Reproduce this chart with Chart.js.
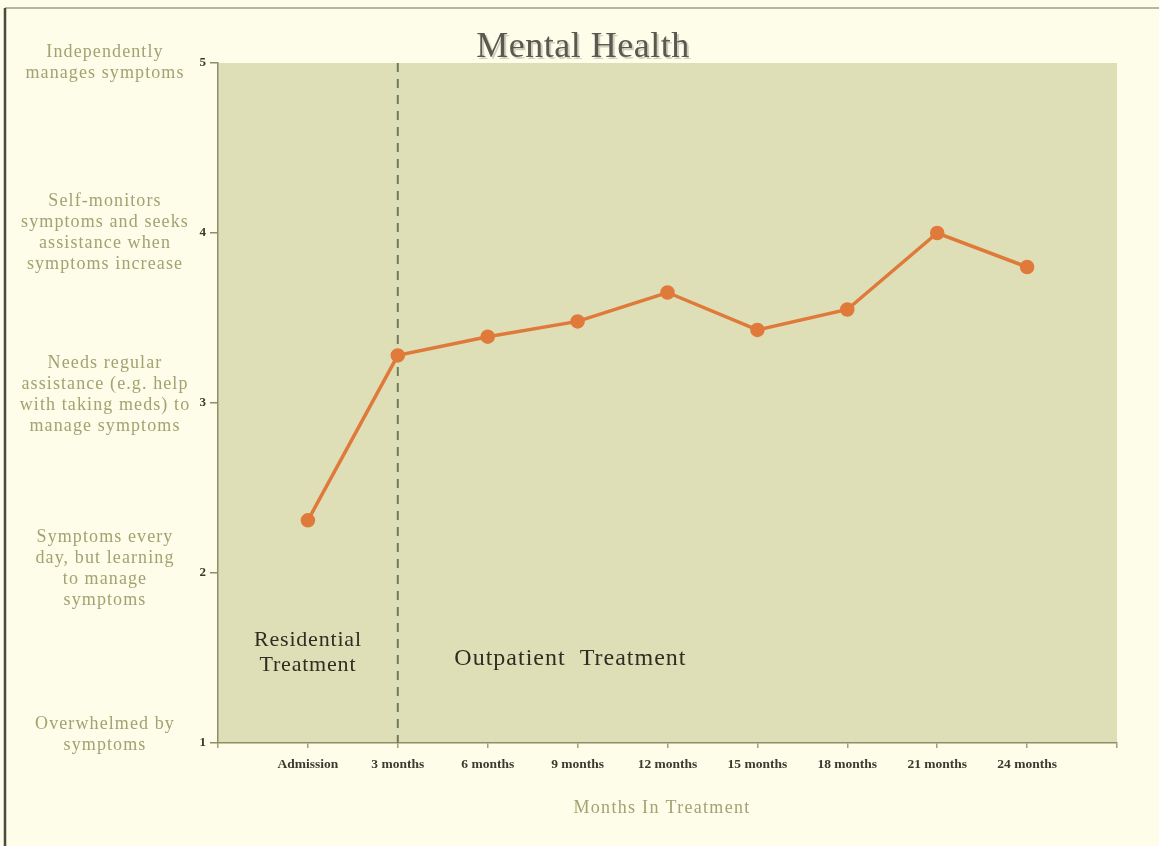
<!DOCTYPE html>
<html>
<head>
<meta charset="utf-8">
<script src="https://cdn.jsdelivr.net/npm/chart.js@4.4.1/dist/chart.umd.min.js"></script>
<style>
  html, body { margin: 0; padding: 0; background: #fefde9; }
  #wrap { width: 1159px; height: 846px; position: relative; }
</style>
</head>
<body>
<div id="wrap"><canvas id="c" width="1159" height="846"></canvas></div>
<script>
// ── data ──
const months = ['', 'Admission', '3 months', '6 months', '9 months', '12 months', '15 months', '18 months', '21 months', '24 months', ''];
const scores = [null, 2.31, 3.28, 3.39, 3.48, 3.65, 3.43, 3.55, 4.0, 3.80, null];
const yTicks = [1, 2, 3, 4, 5];
const yDescriptions = {
  5: ['Independently', 'manages symptoms'],
  4: ['Self-monitors', 'symptoms and seeks', 'assistance when', 'symptoms increase'],
  3: ['Needs regular', 'assistance (e.g. help', 'with taking meds) to', 'manage symptoms'],
  2: ['Symptoms every', 'day, but learning', 'to manage', 'symptoms'],
  1: ['Overwhelmed by', 'symptoms'],
};
const phaseSplit = '3 months';
const phaseLabels = [
  { at: 'Admission', text: ['Residential', 'Treatment'] },
  { at: '6 months', shift: 0.92, text: ['Outpatient  Treatment'] },
];

const SERIF = '"Liberation Serif", "DejaVu Serif", serif';
const OLIVE = '#a3a271';

// ── 背景、框線、標題、說明文字 ──
const decor = {
  id: 'decor',
  beforeDraw(chart) {
    const { ctx, chartArea: a } = chart;
    ctx.save();
    ctx.fillStyle = '#fefde9';
    ctx.fillRect(0, 0, chart.width, chart.height);
    // frame
    ctx.strokeStyle = '#b5b5a5';
    ctx.lineWidth = 2;
    ctx.beginPath(); ctx.moveTo(5, 8); ctx.lineTo(chart.width, 8); ctx.stroke();
    ctx.strokeStyle = '#4a4a40';
    ctx.lineWidth = 2.5;
    ctx.beginPath(); ctx.moveTo(5, 8); ctx.lineTo(5, chart.height); ctx.stroke();
    // plot area
    ctx.fillStyle = '#dfdfb7';
    ctx.fillRect(a.left, a.top, a.right - a.left, a.bottom - a.top);
    ctx.restore();
  },
  beforeDatasetsDraw(chart) {
    const { ctx, chartArea: a, scales: { x } } = chart;
    ctx.save();
    // phase split
    const sx = x.getPixelForValue(months.indexOf(phaseSplit));
    ctx.strokeStyle = '#6f7b5c';
    ctx.lineWidth = 2;
    ctx.setLineDash([9, 7]);
    ctx.beginPath(); ctx.moveTo(sx, a.top); ctx.lineTo(sx, a.bottom); ctx.stroke();
    ctx.setLineDash([]);
    // phase labels
    ctx.fillStyle = '#2e2e22';
    ctx.textAlign = 'center';
    ctx.textBaseline = 'middle';
    phaseLabels.forEach((p, i) => {
      const px = x.getPixelForValue(months.indexOf(p.at) + (p.shift || 0));
      ctx.font = (i === 0 ? '22px ' : '24px ') + SERIF;
      ctx.letterSpacing = i === 0 ? '0.8px' : '1px';
      const y0 = i === 0 ? 640 : 659;
      p.text.forEach((t, j) => ctx.fillText(t, px, y0 + j * 25));
    });
    ctx.restore();
  },
  afterDraw(chart) {
    const { ctx, chartArea: a, scales: { y } } = chart;
    ctx.save();
    // title
    ctx.font = '36px ' + SERIF;
    ctx.letterSpacing = '0.5px';
    ctx.textAlign = 'center';
    ctx.textBaseline = 'alphabetic';
    ctx.fillStyle = 'rgba(0,0,0,0.18)';
    ctx.fillText('Mental Health', 585, 59);
    ctx.fillStyle = '#595950';
    ctx.fillText('Mental Health', 583, 57);
    // x axis title
    ctx.font = '18px ' + SERIF;
    ctx.letterSpacing = '1.3px';
    ctx.fillStyle = OLIVE;
    ctx.textBaseline = 'middle';
    ctx.fillText('Months In Treatment', 662, 808);
    // y descriptions
    ctx.font = '18px ' + SERIF;
    ctx.letterSpacing = '1.1px';
    const lh = 21;
    yTicks.forEach(v => {
      const lines = yDescriptions[v];
      const cy = y.getPixelForValue(v) - (v === 1 ? 8 : v === 3 ? 8 : v === 2 ? 4 : 0);
      const start = cy - (lines.length - 1) * lh / 2;
      lines.forEach((t, j) => ctx.fillText(t, 105, start + j * lh));
    });
    ctx.restore();
  }
};

new Chart(document.getElementById('c'), {
  type: 'line',
  data: {
    labels: months,
    datasets: [{
      data: scores,
      borderColor: '#e07a3a',
      backgroundColor: '#e07a3a',
      pointBackgroundColor: '#e07a3a',
      pointBorderColor: '#e07a3a',
      pointRadius: 5.5,
      borderWidth: 3.5,
      tension: 0,
      spanGaps: false,
    }]
  },
  options: {
    responsive: false,
    animation: false,
    devicePixelRatio: 1,
    layout: { padding: { left: 0, right: 42, top: 63, bottom: 26 } },
    plugins: { legend: { display: false }, tooltip: { enabled: false } },
    scales: {
      x: {
        type: 'category',
        offset: false,
        grid: { display: true, drawOnChartArea: false, color: OLIVE, tickLength: 5, lineWidth: 1.5 },
        border: { color: '#8e8e66', width: 1.5 },
        ticks: { color: '#3a3a30', font: { family: SERIF, size: 13.5, weight: 'bold' }, maxRotation: 0, autoSkip: false, padding: 8 },
        afterFit: s => { s.height = 846 - 743 - 26; }
      },
      y: {
        min: 1, max: 5,
        afterBuildTicks: s => { s.ticks = yTicks.map(v => ({ value: v })); },
        grid: { display: true, drawOnChartArea: false, color: '#8e8e66', tickLength: 8, lineWidth: 1.5 },
        border: { color: '#8e8e66', width: 1.5 },
        ticks: { color: '#3a3a30', font: { family: SERIF, size: 13, weight: 'bold' }, padding: 4 },
        afterFit: s => { s.width = 218; }
      }
    }
  },
  plugins: [decor]
});
</script>
</body>
</html>
